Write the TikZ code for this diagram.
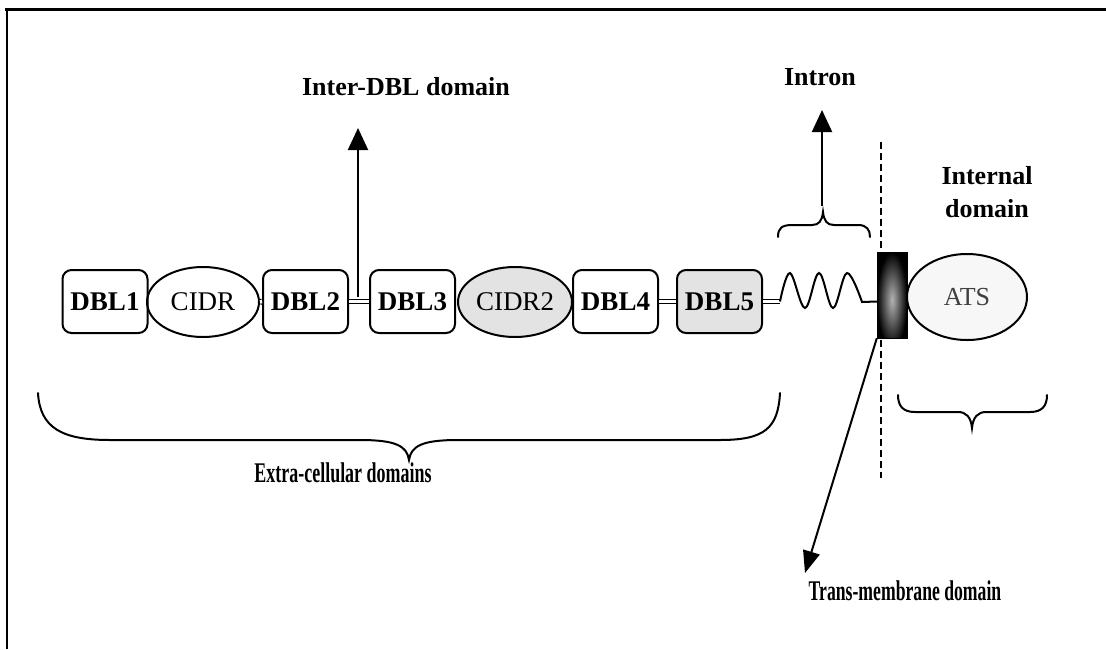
\documentclass[tikz,border=0pt]{standalone}
\usepackage{fontspec}
\setmainfont{Liberation Serif}
\usepackage{graphicx}
\usetikzlibrary{arrows.meta,shapes.geometric}
\begin{document}
\begin{tikzpicture}[x=1pt,y=-1pt,
  dbl/.style={draw, line width=2pt, rounded corners=9pt, minimum width=85pt, minimum height=63pt, inner sep=0pt, font=\fontsize{27}{30}\selectfont\bfseries},
  cidr/.style={draw, ellipse, line width=2pt, minimum width=112pt, minimum height=70pt, inner sep=0pt, font=\fontsize{27}{30}\selectfont},
  link/.style={double, double distance=3.5pt, line width=1.2pt},
  lbl/.style={font=\fontsize{26}{33}\selectfont\bfseries, inner sep=0pt},
  clbl/.style={font=\fontsize{28.5}{30}\selectfont\bfseries, inner sep=0pt},
  bigarrow/.style={line width=2pt, -{Triangle[length=22pt,width=20pt]}},
  brc/.style={line width=2pt, line cap=round},
  speck/.style={fill=gray!22}
]
\useasboundingbox (0,0) rectangle (1106,649);
\fill[white] (0,0) rectangle (1106,649);
% frame
\draw[line width=3pt] (5,9) -- (1106,9);
\draw[line width=2pt] (7,9) -- (7,649);

% membrane (dashed)
\coordinate (m1) at (881,142);
\coordinate (m2) at (881,478);
\draw[line width=2pt, dash pattern=on 7pt off 4pt] (m1) -- (m2);

% domains
\node[dbl] (d1) at (105,301.5) {DBL1};
\node[cidr] (c1) at (203,302) {CIDR};
\node[dbl] (d2) at (305.5,301.5) {DBL2};
\node[dbl] (d3) at (412.5,301.5) {DBL3};
\node[cidr, speck, minimum width=114pt] (c2) at (515,302) {CIDR2};
\node[dbl] (d4) at (615.5,301.5) {DBL4};
\node[dbl, speck] (d5) at (719.5,301.5) {DBL5};

\node[draw, fill=black, minimum width=30pt, minimum height=86pt, inner sep=0pt,
  path picture={\shade[inner color=gray!60, outer color=black]
    ([yshift=-10pt]path picture bounding box.south west) rectangle (path picture bounding box.north east);}] (tm) at (892,295) {};
\node[draw, ellipse, line width=2pt, fill=gray!6, minimum width=120pt, minimum height=86pt, inner sep=0pt,
  font=\fontsize{26}{30}\selectfont, text=black!75] (ats) at (967,297) {ATS};

% links
\coordinate (s0) at (780,301.5);
\draw[link] (c1.east) -- (d2.west);
\draw[link] (d2.east) -- (d3.west);
\draw[link] (d4.east) -- (d5.west);
\draw[link] (d5.east) -- (s0);

% intron spring
\draw[line width=2pt] plot[smooth, tension=0.6] coordinates {(s0) (790,273) (805,308) (819,273) (833,308) (847,273) (862,302)} -- (tm.west |- s0);

% arrows
\coordinate (ia) at (358,297);
\coordinate (it) at (358,128);
\draw[bigarrow] (ia) -- (it);
\coordinate (na) at (822,206);
\coordinate (nt) at (822,110);
\draw[bigarrow] (na) -- (nt);
\coordinate (tt) at (805,573);
\draw[line width=2pt, -{Triangle[length=22pt,width=17pt]}] (tm.south west) -- (tt);

% braces
\draw[brc] (38,393) .. controls (40,428) and (62,440) .. (110,440) -- (360,440) .. controls (396,440) and (407,446) .. (409,460) .. controls (411,446) and (422,440) .. (458,440) -- (720,440) .. controls (765,440) and (778,428) .. (780,393);
\draw[brc] (778,237) .. controls (778,228) and (782,225) .. (792,225) -- (812,225) .. controls (819,225) and (822,221) .. (823,212) .. controls (824,221) and (827,225) .. (834,225) -- (858,225) .. controls (867,225) and (870,230) .. (870,237);
\draw[brc] (898,395) .. controls (898,406) and (903,412) .. (915,412) -- (958,412) .. controls (966,412) and (971,417) .. (972,428) .. controls (973,417) and (978,412) .. (986,412) -- (1030,412) .. controls (1042,412) and (1047,406) .. (1047,395);

% labels
\node[lbl, anchor=base] (interlbl) at (406,95) {Inter-DBL domain};
\node[lbl, anchor=base] (intron) at (820,85) {Intron};
\node[lbl, align=center] (internal) at (987,192) {Internal\\domain};
\node[clbl, anchor=base] (extra) at (343,482) {\scalebox{0.63}[1]{Extra-cellular domains}};
\node[clbl, anchor=base] (trans) at (905,600) {\scalebox{0.62}[1]{Trans-membrane domain}};
\end{tikzpicture}
\end{document}
